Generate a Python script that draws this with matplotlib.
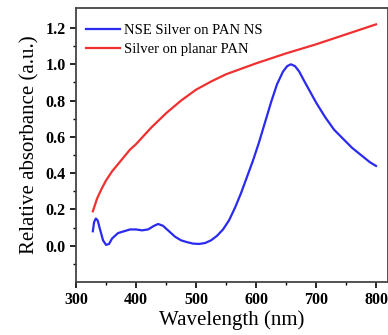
import numpy as np
import matplotlib.pyplot as plt

plt.rcParams['font.family'] = ['Liberation Serif', 'DejaVu Serif']

# NSE silver on PAN NS (blue)
wl_ns = [328, 330, 333, 336, 340, 345, 350, 355, 360, 370, 380, 390, 400, 410, 420, 430, 437, 445,
         455, 465, 475, 485, 495, 505, 515, 525, 535, 545, 555, 565, 575, 585, 595, 605, 615, 625,
         635, 645, 652, 658, 665, 672, 680, 690, 700, 715, 730, 745, 760, 775, 790, 800]
abs_ns = [0.08, 0.13, 0.15, 0.14, 0.09, 0.03, 0.005, 0.01, 0.04, 0.07, 0.08, 0.09, 0.09, 0.085, 0.09, 0.11, 0.12, 0.11,
          0.08, 0.05, 0.03, 0.02, 0.012, 0.01, 0.015, 0.03, 0.055, 0.09, 0.14, 0.21, 0.29, 0.38, 0.47, 0.57, 0.68, 0.79,
          0.89, 0.96, 0.99, 1.0, 0.99, 0.96, 0.91, 0.85, 0.79, 0.71, 0.64, 0.59, 0.54, 0.5, 0.46, 0.44]

# Silver on planar PAN (red)
wl_pl = [328, 335, 342, 350, 360, 375, 390, 400, 425, 450, 475, 500, 525, 550, 575, 600, 650, 700, 750, 800]
abs_pl = [0.19, 0.26, 0.31, 0.36, 0.41, 0.47, 0.53, 0.56, 0.65, 0.73, 0.80, 0.86, 0.905, 0.945, 0.975, 1.005, 1.06, 1.11, 1.165, 1.22]

fig = plt.figure(figsize=(3.88, 3.35), dpi=100)
ax = fig.add_axes([0.196, 0.158, 0.804, 0.818])

ax.plot(wl_ns, abs_ns, color='#2a2af0', lw=1.6, label='NSE Silver on PAN NS')
ax.plot(wl_pl, abs_pl, color='#f03030', lw=1.6, label='Silver on planar PAN')

ax.set_xlim(300, 820)
ax.set_ylim(-0.2, 1.31)
ax.set_xticks([300, 400, 500, 600, 700, 800])
ax.set_xticks(np.arange(350, 820, 100), minor=True)
ax.set_yticks([0.0, 0.2, 0.4, 0.6, 0.8, 1.0, 1.2])
ax.set_yticks(np.arange(-0.1, 1.3, 0.2), minor=True)
ax.tick_params(which='major', direction='out', length=4, width=1.2, labelsize=11.5)
ax.tick_params(which='minor', direction='out', length=2, width=1)
for lab in ax.get_xticklabels() + ax.get_yticklabels():
    lab.set_fontweight('bold')
for s in ax.spines.values():
    s.set_linewidth(1.3)
    s.set_color('#444444')

ax.set_xlabel('Wavelength (nm)', fontsize=15, labelpad=1)
ax.set_ylabel('Relative absorbance (a.u.)', fontsize=15, labelpad=4)

ax.legend(loc='upper left', bbox_to_anchor=(0.0, 0.98), frameon=False, fontsize=10.5,
          handlelength=2.3, handletextpad=0.3, borderaxespad=0.3, labelspacing=0.4)

fig.savefig('out.png', dpi=100)
